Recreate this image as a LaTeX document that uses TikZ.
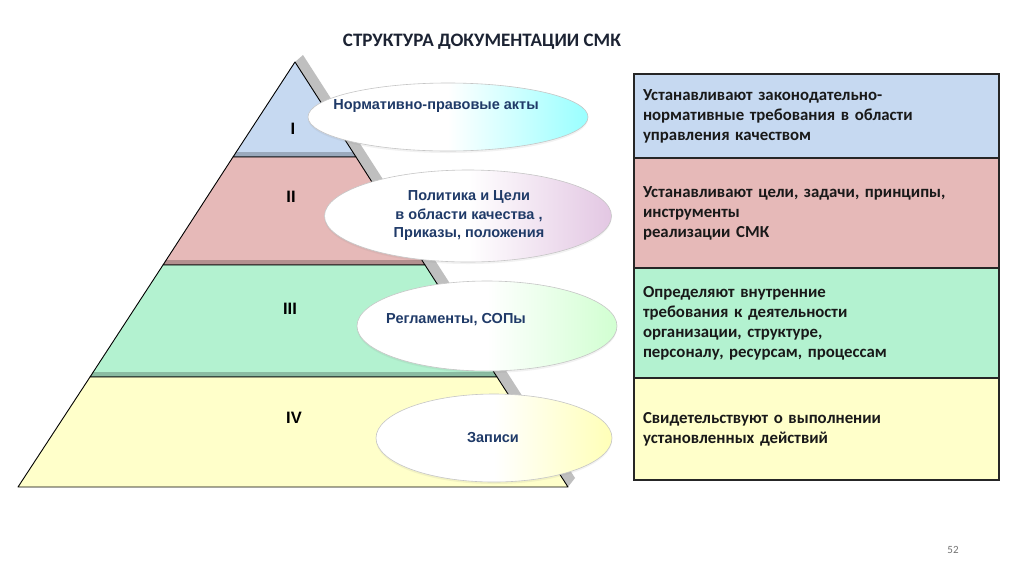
\documentclass[tikz,border=0pt]{standalone}
\usepackage{fontspec}
\setmainfont{Carlito}
\newfontfamily\cellfont{Carlito}[WordSpace=0.6]
\setsansfont{Liberation Sans}
\usetikzlibrary{shapes.geometric,shadows,positioning}

\definecolor{lvlblue}{HTML}{C6D9F1}
\definecolor{lvlpink}{HTML}{E6B9B8}
\definecolor{lvlgreen}{HTML}{B3F2D0}
\definecolor{lvlyellow}{HTML}{FFFFCA}
\definecolor{ovalnavy}{HTML}{1F3A68}
\definecolor{titlenavy}{HTML}{1C2333}

\begin{document}
\begin{tikzpicture}[x=1pt, y=-1pt,
  band/.style={draw=black, line width=0.9pt, line join=round},
  seam/.style={fill=black, opacity=0.22},
  numeral/.style={font=\sffamily\bfseries\fontsize{16.5}{18}\selectfont},
  oval/.style={ellipse, draw=gray!45, line width=0.6pt, inner sep=0pt,
    drop shadow={opacity=0.1, shadow xshift=0pt, shadow yshift=-2pt}},
  ovaltext/.style={align=center, text=ovalnavy, font=\sffamily\bfseries\fontsize{14.5}{18.5}\selectfont},
  cell/.style={draw=black!85, line width=1.1pt, minimum width=365, inner xsep=9pt,
    text width=347, align=left, font=\cellfont\bfseries\fontsize{16.8}{20}\selectfont, text=black!90}
]
  \useasboundingbox (0,0) rectangle (1024,574);
  \fill[white] (0,0) rectangle (1024,574);

  \node[font=\bfseries\fontsize{19}{22}\selectfont, text=titlenavy] (title) at (482,42) {СТРУКТУРА ДОКУМЕНТАЦИИ СМК};

  % shadow face of the pyramid
  \fill[black!25] (295,62) -- (303,55) -- (575,478) -- (568,487) -- cycle;

  % pyramid levels
  \draw[band, fill=lvlblue] (295,62) -- (356,157) -- (233,157) -- cycle;
  \draw[band, fill=lvlpink] (233,157) -- (356,157) -- (425,265) -- (163,265) -- cycle;
  \draw[band, fill=lvlgreen] (163,265) -- (425,265) -- (497,377) -- (90,377) -- cycle;
  \draw[band, fill=lvlyellow] (90,377) -- (497,377) -- (568,487) -- (18,487) -- cycle;
  \fill[seam] (236,152) -- (353,152) -- (356,157) -- (233,157) -- cycle;
  \fill[seam] (166,260) -- (422,260) -- (425,265) -- (163,265) -- cycle;
  \fill[seam] (93,372) -- (494,372) -- (497,377) -- (90,377) -- cycle;

  \node[numeral] (n1) at (293,129) {I};
  \node[numeral] (n2) at (291,197) {II};
  \node[numeral] (n3) at (290,309) {III};
  \node[numeral] (n4) at (294,418) {IV};

  % ovals
  \node[oval, minimum width=280, minimum height=68, left color=white, right color=cyan!40, middle color=white] (e1) at (448,117) {};
  \node[oval, minimum width=287, minimum height=92, left color=white, right color=violet!22, middle color=white] (e2) at (468,216) {};
  \node[oval, minimum width=260, minimum height=90, left color=white, right color=green!18, middle color=white] (e3) at (487,326) {};
  \node[oval, minimum width=236, minimum height=88, left color=white, right color=yellow!28, middle color=white] (e4) at (494,438) {};

  \node[ovaltext] (t1) at (436,106) {Нормативно-правовые акты};
  \node[ovaltext] (t2) at (469,216) {Политика и Цели\\в области качества ,\\Приказы, положения};
  \node[ovaltext] (t3) at (456,320) {Регламенты, СОПы};
  \node[ovaltext] (t4) at (493,438) {Записи};

  % table
  \node[cell, fill=lvlblue, minimum height=84] (r1) at (816.5,116) {Устанавливают законодательно-\\нормативные требования в области\\управления качеством};
  \node[cell, fill=lvlpink, minimum height=110] (r2) at (816.5,213) {Устанавливают цели, задачи, принципы,\\инструменты\\реализации СМК};
  \node[cell, fill=lvlgreen, minimum height=110] (r3) at (816.5,323) {Определяют внутренние\\требования к деятельности\\организации, структуре,\\персоналу, ресурсам, процессам};
  \node[cell, fill=lvlyellow, minimum height=102] (r4) at (816.5,429) {Свидетельствуют о выполнении\\установленных действий};

  \node[font=\fontsize{11}{13}\selectfont, text=black!55] (pg) at (953,550) {52};
\end{tikzpicture}
\end{document}
